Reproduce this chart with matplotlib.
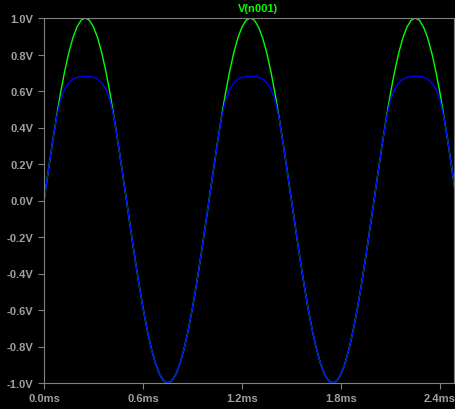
import matplotlib.pyplot as plt

green_rise = [0.0, 0.156, 0.309, 0.454, 0.588, 0.707, 0.809, 0.891, 0.951, 0.988, 1.0]
blue_rise = [0.0, 0.156, 0.309, 0.45, 0.55, 0.61, 0.645, 0.665, 0.675, 0.68, 0.68]
green_period = green_rise + green_rise[-2:0:-1] + [-v for v in green_rise] + [-v for v in green_rise[-2:0:-1]]
blue_period = blue_rise + blue_rise[-2:0:-1] + [-v for v in green_rise] + [-v for v in green_rise[-2:0:-1]]
n_periods = 3
n_pts = 101
green = (green_period * n_periods)[:n_pts]
blue = (blue_period * n_periods)[:n_pts]
time_ms = [i * 0.025 for i in range(n_pts)]

xticks = [0.0, 0.6, 1.2, 1.8, 2.4]
yticks = [-1.0, -0.8, -0.6, -0.4, -0.2, 0.0, 0.2, 0.4, 0.6, 0.8, 1.0]

fig = plt.figure(figsize=(4.55, 4.10), dpi=100, facecolor="black")
ax = fig.add_axes([44/455, 26/410, 410/455, 365/410], facecolor="black")
ax.plot(time_ms, green, color="#00ff00", lw=1)
ax.plot(time_ms, blue, color="#0000ff", lw=1)
ax.set_xlim(0, 410/165)
ax.set_ylim(-1.0, 1.0)
ax.set_xticks(xticks)
ax.set_xticklabels([f"{t:.1f}ms" for t in xticks])
ax.set_yticks(yticks)
ax.set_yticklabels([f"{v:.1f}V" for v in yticks])
for s in ax.spines.values():
    s.set_color("#808080")
ax.tick_params(colors="#808080", labelcolor="#a0a0a0", labelsize=8, length=4)
for lab in ax.get_xticklabels() + ax.get_yticklabels():
    lab.set_fontweight("bold")
    lab.set_family("Liberation Sans")
fig.text(258/455, 1 - 9/410, "V(n001)", color="#00ff00", ha="center", va="center",
         fontsize=8, fontweight="bold", family="Liberation Sans")
fig.savefig("out.png", facecolor="black")
